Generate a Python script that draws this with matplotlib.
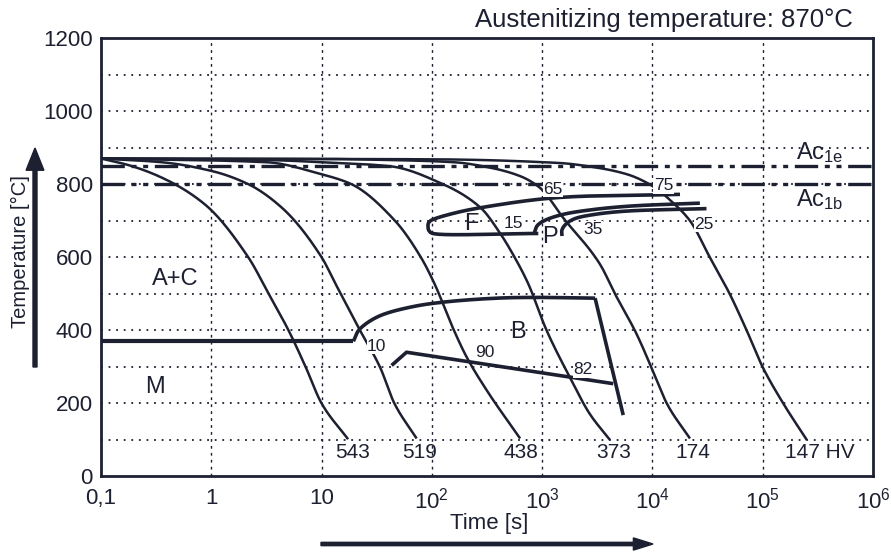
import numpy as np
import matplotlib
matplotlib.use("Agg")
import matplotlib.pyplot as plt

plt.rcParams['font.family'] = ['Liberation Sans', 'DejaVu Sans']
plt.rcParams['mathtext.fontset'] = 'custom'
plt.rcParams['mathtext.rm'] = 'Liberation Sans'
plt.rcParams['mathtext.it'] = 'Liberation Sans'

INK = '#1d2030'

# ---- data: cooling curves (log10 time [s], temperature [C]) ----
c543_logt = [-1.0, -0.75, -0.45, -0.06, 0.335, 0.52, 0.70, 0.855, 1.0, 1.24]
c543_T    = [870, 852, 818, 745, 600, 500, 400, 300, 200, 102]
c519_logt = [-1.0, -0.45, 0.004, 0.335, 0.638, 1.0, 1.13, 1.348, 1.53, 1.66, 1.862]
c519_T    = [870, 860, 836, 800, 736, 600, 525, 400, 299, 200, 104]
c438_logt = [-1.0, 0.5, 1.0, 1.27, 1.665, 1.9, 2.02, 2.2, 2.315, 2.497, 2.8]
c438_T    = [870, 860, 827, 800, 700, 600, 530, 400, 327, 236, 104]
c373_logt = [-1.0, 0.5, 1.0, 1.62, 2.1, 2.44, 2.62, 2.75, 2.87, 3.04, 3.25, 3.43, 3.615]
c373_T    = [870, 866, 860, 849, 800, 736, 665, 600, 530, 400, 272, 172, 100]
c174_logt = [-1.0, 1.0, 1.62, 2.2, 2.53, 2.8, 2.98, 3.19, 3.524, 3.66, 3.856, 4.04, 4.13, 4.34]
c174_T    = [870, 869, 866, 860, 845, 822, 790, 708, 581, 500, 390, 263, 200, 104]
c147_logt = [-1.0, 2.0, 3.15, 3.5, 3.77, 4.0, 4.19, 4.34, 4.52, 4.70, 4.854, 5.0, 5.186, 5.40]
c147_T    = [870, 868, 858, 845, 827, 795, 748, 700, 600, 500, 400, 299, 200, 100]
hardness  = ['543', '519', '438', '373', '174', '147 HV']
hv_logt   = [1.28, 1.89, 2.81, 3.645, 4.37, 5.52]

# transformation lines
ferrite_logt = [4.25, 3.13, 2.53, 2.22, 2.0, 1.97, 1.965, 1.975, 2.01, 2.965]
ferrite_T    = [772, 763, 740, 722, 702, 694, 684, 672, 665, 665]
pearl1_logt = [2.93, 2.96, 3.04, 3.2, 3.45, 3.8, 4.43]
pearl1_T    = [668, 688, 703, 718, 730, 740, 748]
pearl2_logt = [3.18, 3.18, 3.22, 3.3, 3.45, 3.75, 4.49]
pearl2_T    = [658, 675, 692, 706, 716, 726, 733]
ms_logt = [-1.0, 1.288]
ms_T    = [370, 370]
bs_logt = [1.288, 1.348, 1.53, 1.83, 2.13, 2.59, 2.92, 3.48]
bs_T    = [370, 404, 440, 465, 478, 488, 490, 488]
bend_logt = [3.48, 3.735]
bend_T    = [488, 168]
bmid_logt = [1.635, 1.77, 3.645]
bmid_T    = [304, 340, 254]

ac1e = 850
ac1b = 800

labels_small = [('65', 3.10, 786), ('75', 4.10, 795), ('25', 4.47, 690), ('15', 2.74, 692),
                ('35', 3.46, 677), ('10', 1.50, 356), ('90', 2.48, 340), ('82', 3.37, 292)]
labels_big = [('F', 2.36, 690), ('P', 3.07, 656), ('B', 2.78, 395), ('A+C', -0.33, 540), ('M', -0.51, 245)]

xtick_labels = ['0,1', '1', '10', r'$\mathregular{10^2}$', r'$\mathregular{10^3}$',
                r'$\mathregular{10^4}$', r'$\mathregular{10^5}$', r'$\mathregular{10^6}$']
ytick_vals = [0, 200, 400, 600, 800, 1000, 1200]


def pchip(xs, ys, n=400):
    x = np.asarray(xs, float); y = np.asarray(ys, float)
    h = np.diff(x); d = np.diff(y) / h
    m = np.zeros_like(x)
    for k in range(1, len(x) - 1):
        if d[k - 1] * d[k] <= 0:
            m[k] = 0
        else:
            w1 = 2 * h[k] + h[k - 1]; w2 = h[k] + 2 * h[k - 1]
            m[k] = (w1 + w2) / (w1 / d[k - 1] + w2 / d[k])
    m[0] = d[0]; m[-1] = d[-1]
    xx = np.linspace(x[0], x[-1], n)
    idx = np.clip(np.searchsorted(x, xx) - 1, 0, len(h) - 1)
    t = (xx - x[idx]) / h[idx]
    h00 = 2 * t**3 - 3 * t**2 + 1; h10 = t**3 - 2 * t**2 + t
    h01 = -2 * t**3 + 3 * t**2; h11 = t**3 - t**2
    yy = h00 * y[idx] + h10 * h[idx] * m[idx] + h01 * y[idx + 1] + h11 * h[idx] * m[idx + 1]
    return xx, yy


def smooth(xs, ys, n=24):
    xs = np.asarray(xs, float); ys = np.asarray(ys, float) / 150.0
    P = np.column_stack([xs, ys])
    P = np.vstack([2 * P[0] - P[1], P, 2 * P[-1] - P[-2]])
    out = []
    for i in range(1, len(P) - 2):
        p0, p1, p2, p3 = P[i - 1], P[i], P[i + 1], P[i + 2]
        d01 = max(np.linalg.norm(p1 - p0), 1e-6) ** 0.5
        d12 = max(np.linalg.norm(p2 - p1), 1e-6) ** 0.5
        d23 = max(np.linalg.norm(p3 - p2), 1e-6) ** 0.5
        t0, t1 = 0, d01; t2 = t1 + d12; t3 = t2 + d23
        t = np.linspace(t1, t2, n, endpoint=False)[:, None]
        A1 = (t1 - t) / (t1 - t0) * p0 + (t - t0) / (t1 - t0) * p1
        A2 = (t2 - t) / (t2 - t1) * p1 + (t - t1) / (t2 - t1) * p2
        A3 = (t3 - t) / (t3 - t2) * p2 + (t - t2) / (t3 - t2) * p3
        B1 = (t2 - t) / (t2 - t0) * A1 + (t - t0) / (t2 - t0) * A2
        B2 = (t3 - t) / (t3 - t1) * A2 + (t - t1) / (t3 - t1) * A3
        out.append((t2 - t) / (t2 - t1) * B1 + (t - t1) / (t2 - t1) * B2)
    out.append(P[-2][None, :])
    out = np.vstack(out)
    return out[:, 0], out[:, 1] * 150.0


fig = plt.figure(figsize=(8.91, 5.56), dpi=100)
ax = fig.add_axes([0.1134, 0.143, 0.8664, 0.7887])
ax.set_xscale('log')
ax.set_xlim(0.1, 1e6)
ax.set_ylim(0, 1200)

# grid
for T in range(100, 1200, 100):
    ax.axhline(T, color=INK, lw=1.3, ls=(0, (1, 3.2)), zorder=1)
for k in range(0, 6):
    ax.axvline(10.0 ** k, color=INK, lw=1.0, ls=(0, (2, 3)), zorder=1)

# Ac lines
for v in (ac1e, ac1b):
    ax.axhline(v, color=INK, lw=2.4, ls=(0, (7, 2, 1.5, 2, 1.5, 2)), zorder=2)

curves = [(c543_logt, c543_T), (c519_logt, c519_T), (c438_logt, c438_T),
          (c373_logt, c373_T), (c174_logt, c174_T), (c147_logt, c147_T)]
for lx, ty in curves:
    sx, sy = pchip(lx, ty)
    ax.plot(10 ** sx, sy, color=INK, lw=1.8, zorder=3, solid_capstyle='butt')

thick = dict(color=INK, lw=2.6, zorder=4, solid_capstyle='butt', solid_joinstyle='round')
for lx, ty in [(ferrite_logt, ferrite_T), (pearl1_logt, pearl1_T), (pearl2_logt, pearl2_T),
               (bs_logt, bs_T)]:
    sx, sy = smooth(lx, ty)
    ax.plot(10 ** sx, sy, **thick)
ax.plot(10 ** np.array(ms_logt), ms_T, color=INK, lw=3.0, zorder=4, solid_capstyle='butt')
ax.plot(10 ** np.array(bend_logt), bend_T, **thick)
ax.plot(10 ** np.array(bmid_logt), bmid_T, **thick)

for s, lx in zip(hardness, hv_logt):
    ax.text(10 ** lx, 65, s, ha='center', va='center', fontsize=15, color=INK, zorder=5)
for s, lx, ty in labels_small:
    ax.text(10 ** lx, ty, s, ha='center', va='center', fontsize=12.5, color=INK, zorder=5,
            bbox=dict(facecolor='white', edgecolor='none', pad=0.3))
for s, lx, ty in labels_big:
    ax.text(10 ** lx, ty, s, ha='center', va='center', fontsize=17, color=INK, zorder=5)

ax.text(10 ** 5.52, 886, r'$\mathregular{Ac_{1e}}$', ha='center', va='center', fontsize=17, color=INK)
ax.text(10 ** 5.52, 759, r'$\mathregular{Ac_{1b}}$', ha='center', va='center', fontsize=17, color=INK)

ax.set_xticks([10.0 ** k for k in range(-1, 7)])
ax.set_xticklabels(xtick_labels)
ax.xaxis.set_minor_locator(matplotlib.ticker.NullLocator())
ax.set_yticks(ytick_vals)
ax.set_yticklabels([str(v) for v in ytick_vals])
ax.tick_params(axis='both', length=0, labelsize=16, colors=INK)
ax.tick_params(axis='x', pad=8)
ax.tick_params(axis='y', pad=6)
for sp in ax.spines.values():
    sp.set_linewidth(2.0)
    sp.set_color(INK)

# titles / axis labels with arrows
fig.text(853 / 891, 1 - 20 / 556, 'Austenitizing temperature: 870°C', ha='right', va='center',
         fontsize=18.5, color=INK)
fig.text(20 / 891, 1 - 252 / 556, 'Temperature [°C]', rotation=90, ha='center', va='center',
         fontsize=14.5, color=INK)
fig.text(489 / 891, 1 - 524 / 556, 'Time [s]', ha='center', va='center', fontsize=16, color=INK)
fig.patches.append(matplotlib.patches.FancyArrow(35 / 891, 1 - 367 / 556, 0, (367 - 148) / 556,
                   width=0.0045, head_width=0.02, head_length=0.04, length_includes_head=True,
                   transform=fig.transFigure, color=INK))
fig.patches.append(matplotlib.patches.FancyArrow(321 / 891, 1 - 544 / 556, (653 - 321) / 891, 0,
                   width=0.006, head_width=0.022, head_length=0.022, length_includes_head=True,
                   transform=fig.transFigure, color=INK))

fig.savefig('out.png', dpi=100)
